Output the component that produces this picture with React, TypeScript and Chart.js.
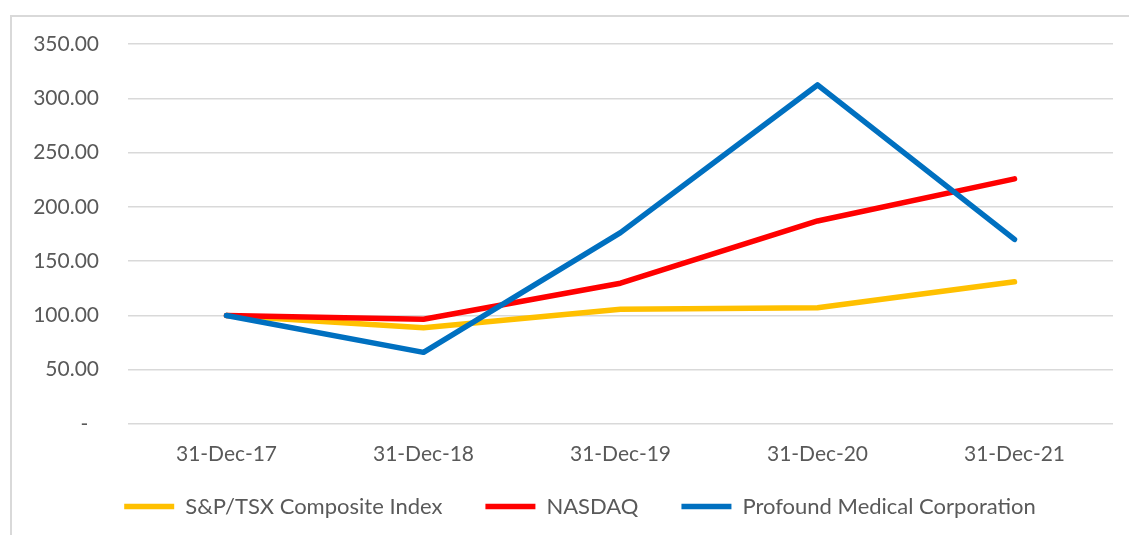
import React, { useEffect, useRef } from "react";
import { Chart, registerables } from "chart.js";

Chart.register(...registerables);

const categories = ["31-Dec-17", "31-Dec-18", "31-Dec-19", "31-Dec-20", "31-Dec-21"];
const spTsx = [100, 88.7, 105.7, 107, 131];
const nasdaq = [100, 96.5, 129.7, 187, 225.8];
const profound = [100, 66, 176.3, 312.3, 170];
const yTicks = [0, 50, 100, 150, 200, 250, 300, 350];

const TEXT = "#595959";
const FONT = "Lato, 'Open Sans', sans-serif";
const LEGEND_PAD = 43;
const LEGEND_FONT = 22;

const legendShift = {
  id: "legendShift",
  afterLayout(chart: any) {
    const lg = chart.legend;
    if (!lg) return;
    const h = lg.bottom - lg.top;
    const top = 506.5 - LEGEND_PAD - LEGEND_FONT / 2;
    lg.top = top;
    lg.bottom = top + h;
    const dx = 580 - (lg.left + lg.right) / 2;
    lg.left += dx;
    lg.right += dx;
  },
};

export default function App() {
  const ref = useRef<HTMLCanvasElement | null>(null);

  useEffect(() => {
    if (!ref.current) return;
    const chart = new Chart(ref.current, {
      type: "line",
      data: {
        labels: categories,
        datasets: [
          {
            label: "Profound Medical Corporation",
            data: profound,
            borderColor: "#0070C0",
            backgroundColor: "#0070C0",
          },
          {
            label: "NASDAQ",
            data: nasdaq,
            borderColor: "#FF0000",
            backgroundColor: "#FF0000",
          },
          {
            label: "S&P/TSX Composite Index",
            data: spTsx,
            borderColor: "#FFC000",
            backgroundColor: "#FFC000",
          },
        ].map((d) => ({
          ...d,
          borderWidth: 5.5,
          pointRadius: 0,
          pointHoverRadius: 0,
          tension: 0,
          fill: false,
          borderCapStyle: "round" as const,
          borderJoinStyle: "round" as const,
        })),
      },
      plugins: [legendShift],
      options: {
        responsive: false,
        animation: false,
        maintainAspectRatio: false,
        layout: { padding: { left: 0, right: 16, top: 44, bottom: 0 } },
        font: { family: FONT, size: 21 },
        scales: {
          x: {
            offset: true,
            grid: { display: false },
            border: { display: false },
            ticks: { color: TEXT, font: { family: FONT, size: 21 }, padding: 10, maxRotation: 0 },
            afterFit: (s: any) => {
              s.height = 42;
            },
          },
          y: {
            min: 0,
            max: 350,
            afterBuildTicks: (s: any) => {
              s.ticks = yTicks.map((v) => ({ value: v }));
            },
            grid: { color: "#d9d9d9", lineWidth: 1.5, drawTicks: false },
            border: { display: false },
            ticks: {
              color: TEXT,
              font: { family: FONT, size: 21 },
              padding: 29,
              callback: (v: any) => (Number(v) === 0 ? "-  " : Number(v).toFixed(2)),
            },
            afterFit: (s: any) => {
              s.width = 128;
            },
          },
        },
        plugins: {
          tooltip: { enabled: false },
          legend: {
            position: "bottom",
            reverse: true,
            maxHeight: 69,
            labels: {
              usePointStyle: true,
              pointStyle: "line",
              pointStyleWidth: 50,
              padding: LEGEND_PAD,
              color: TEXT,
              font: { family: FONT, size: LEGEND_FONT },
            },
          },
        },
      } as any,
    });
    return () => chart.destroy();
  }, []);

  return (
    <div
      style={{
        position: "fixed",
        left: 0,
        top: 0,
        width: 1129,
        height: 535,
        overflow: "hidden",
        background: "#ffffff",
      }}
    >
      <div
        style={{
          position: "absolute",
          left: 10,
          top: 15,
          width: 1300,
          height: 700,
          border: "2px solid #d9d9d9",
          boxSizing: "border-box",
        }}
      />
      <canvas
        ref={ref}
        width={1129}
        height={535}
        style={{ position: "absolute", left: 0, top: 0, width: 1129, height: 535 }}
      />
    </div>
  );
}
